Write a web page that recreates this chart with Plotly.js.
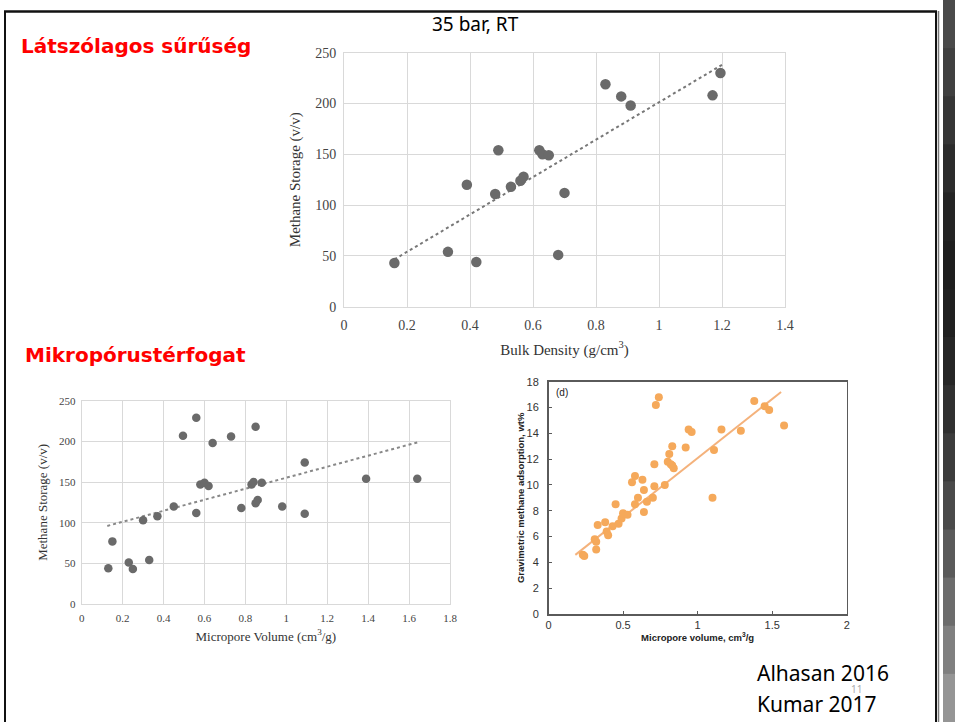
<!DOCTYPE html>
<html>
<head>
<meta charset="utf-8">
<script src="https://cdn.plot.ly/plotly-3.0.1.min.js"></script>
<style>html,body{margin:0;padding:0;background:#fff;}#chart{width:955px;height:722px;}</style>
</head>
<body>
<div id="chart"></div>
<script>
// ---- Chart 1: Bulk density vs methane storage (Alhasan 2016) ----
var densX = [0.16, 0.33, 0.39, 0.42, 0.48, 0.49, 0.53, 0.56, 0.57, 0.62, 0.63, 0.65, 0.68, 0.70, 0.83, 0.88, 0.91, 1.17, 1.195];
var densY = [43, 54, 120, 44, 111, 154, 118, 124, 128, 154, 150, 149, 51, 112, 219, 207, 198, 208, 230];
var densTrendX = [0.16, 1.2];
var densTrendY = [46.6, 238];

// ---- Chart 2: Micropore volume vs methane storage (Alhasan 2016) ----
var microX = [0.13, 0.15, 0.23, 0.25, 0.30, 0.33, 0.37, 0.45, 0.495, 0.56, 0.56, 0.58, 0.60, 0.62, 0.64, 0.73, 0.78, 0.83, 0.84, 0.85, 0.85, 0.86, 0.88, 0.98, 1.09, 1.09, 1.39, 1.64];
var microY = [44, 77, 51, 43, 103, 54, 108, 120, 207, 229, 112, 147, 149, 145, 198, 206, 118, 147, 150, 218, 124, 128, 149, 120, 174, 111, 154, 154];
var microTrendX = [0.125, 1.645];
var microTrendY = [96, 199];

// ---- Chart 3: Micropore volume vs gravimetric adsorption (Kumar 2017) ----
var kumarX = [0.23, 0.24, 0.31, 0.32, 0.32, 0.33, 0.38, 0.39, 0.40, 0.43, 0.45, 0.47, 0.49, 0.50, 0.53, 0.56, 0.58, 0.58, 0.60, 0.63, 0.64, 0.64, 0.66, 0.70, 0.71, 0.71, 0.72, 0.74, 0.78, 0.80, 0.81, 0.82, 0.83, 0.83, 0.84, 0.92, 0.94, 0.96, 1.10, 1.11, 1.16, 1.29, 1.38, 1.45, 1.48, 1.58];
var kumarY = [4.6, 4.5, 5.8, 5.6, 5.0, 6.9, 7.1, 6.4, 6.1, 6.8, 8.5, 7.0, 7.4, 7.8, 7.7, 10.2, 10.7, 8.5, 9.0, 10.4, 9.6, 7.9, 8.7, 9.0, 11.6, 9.9, 16.2, 16.8, 10.0, 11.8, 12.4, 11.6, 13.0, 11.5, 11.3, 12.9, 14.3, 14.1, 9.0, 12.7, 14.3, 14.2, 16.5, 16.1, 15.8, 14.6];
var kumarTrendX = [0.18, 1.56];
var kumarTrendY = [4.58, 17.2];

var serif = "Liberation Serif, Times New Roman, serif";
var sans = "Liberation Sans, Arial, sans-serif";
var gridC = "#d9d9d9";
var dotC = "#6a6a6a";
var orange = "#f5a95b";

var traces = [
  {x: densTrendX, y: densTrendY, xaxis: "x", yaxis: "y", mode: "lines", type: "scatter",
   line: {color: "#777", width: 2, dash: "dot"}, hoverinfo: "skip"},
  {x: densX, y: densY, xaxis: "x", yaxis: "y", mode: "markers", type: "scatter",
   marker: {color: dotC, size: 10.5}},
  {x: microTrendX, y: microTrendY, xaxis: "x2", yaxis: "y2", mode: "lines", type: "scatter",
   line: {color: "#888", width: 2, dash: "dot"}, hoverinfo: "skip"},
  {x: microX, y: microY, xaxis: "x2", yaxis: "y2", mode: "markers", type: "scatter",
   marker: {color: dotC, size: 8.5}},
  {x: kumarTrendX, y: kumarTrendY, xaxis: "x3", yaxis: "y3", mode: "lines", type: "scatter",
   line: {color: "#f4b27c", width: 2}, hoverinfo: "skip"},
  {x: kumarX, y: kumarY, xaxis: "x3", yaxis: "y3", mode: "markers", type: "scatter",
   marker: {color: orange, size: 8}}
];

function px(x) { return x / 955; }
function py(y) { return 1 - y / 722; }

var shapes = [];
// decorative dark strip on the right edge (overlapping bands, no seams)
var stripCols = ["#4a4a4a", "#404040", "#363636", "#2c2c2c", "#242424", "#1e1e1e", "#202020", "#262626", "#303030", "#3c3c3c", "#4a4a4a", "#5a5a5a", "#6c6c6c", "#808080", "#959595"];
for (var i = 0; i < stripCols.length; i++) {
  shapes.push({type: "rect", xref: "paper", yref: "paper", x0: px(943), x1: 1,
    y0: py(Math.min(722, 722 * (i + 1) / stripCols.length + 2)), y1: py(722 * i / stripCols.length),
    fillcolor: stripCols[i], line: {width: 0}, layer: "below"});
}
// slide frame
shapes.push(
  {type: "line", xref: "paper", yref: "paper", x0: px(4), x1: px(937), y0: py(11.5), y1: py(11.5), line: {color: "#111", width: 2.5}},
  {type: "line", xref: "paper", yref: "paper", x0: px(5), x1: px(5), y0: py(11), y1: py(722), line: {color: "#111", width: 2}},
  {type: "line", xref: "paper", yref: "paper", x0: px(936), x1: px(936), y0: py(11), y1: py(722), line: {color: "#111", width: 2}},
  {type: "line", xref: "paper", yref: "paper", x0: px(938.5), x1: px(938.5), y0: py(11), y1: py(722), line: {color: "#777", width: 1.5}}
);

var annotations = [
  {text: "35 bar, RT", xref: "paper", yref: "paper", x: px(475), y: py(24), xanchor: "center", yanchor: "middle", showarrow: false,
   font: {family: "Noto Sans, sans-serif", size: 19, color: "#000"}},
  {text: "<b>Látszólagos sűrűség</b>", xref: "paper", yref: "paper", x: px(19), y: py(46), xanchor: "left", yanchor: "middle", showarrow: false,
   font: {family: "DejaVu Sans, sans-serif", size: 20, color: "#ff0000"}},
  {text: "<b>Mikropórustérfogat</b>", xref: "paper", yref: "paper", x: px(23), y: py(355), xanchor: "left", yanchor: "middle", showarrow: false,
   font: {family: "DejaVu Sans, sans-serif", size: 20, color: "#ff0000"}},
  {text: "Alhasan 2016", xref: "paper", yref: "paper", x: px(755), y: py(673), xanchor: "left", yanchor: "middle", showarrow: false,
   font: {family: "Noto Sans, sans-serif", size: 21, color: "#000"}},
  {text: "Kumar 2017", xref: "paper", yref: "paper", x: px(755), y: py(704), xanchor: "left", yanchor: "middle", showarrow: false,
   font: {family: "Noto Sans, sans-serif", size: 21, color: "#000"}},
  {text: "11", xref: "paper", yref: "paper", x: px(856), y: py(689), xanchor: "center", yanchor: "middle", showarrow: false,
   font: {family: "Noto Sans, sans-serif", size: 10, color: "#aaa"}},
  {text: "(d)", xref: "x3 domain", yref: "y3 domain", x: 0.02, y: 0.985, xanchor: "left", yanchor: "top", showarrow: false,
   font: {family: sans, size: 10, color: "#222"}}
];

var layout = {
  width: 955, height: 722,
  margin: {l: 0, r: 0, t: 0, b: 0},
  paper_bgcolor: "#fff", plot_bgcolor: "#fff",
  showlegend: false,
  xaxis: {
    domain: [px(344), px(785)], range: [0, 1.4], dtick: 0.2, tick0: 0,
    showgrid: true, gridcolor: gridC, gridwidth: 1, zeroline: false,
    showline: true, mirror: true, linecolor: gridC, linewidth: 1,
    ticks: "outside", ticklen: 5, tickcolor: "rgba(0,0,0,0)",
    tickfont: {family: serif, size: 14, color: "#444"}, automargin: false,
    title: {text: "Bulk Density (g/cm<sup>3</sup>)", font: {family: serif, size: 15, color: "#333"}, standoff: 12}
  },
  yaxis: {
    domain: [py(306.7), py(52.7)], range: [0, 250], dtick: 50, tick0: 0,
    showgrid: true, gridcolor: gridC, gridwidth: 1, zeroline: false,
    showline: true, mirror: true, linecolor: gridC, linewidth: 1,
    ticks: "outside", ticklen: 4, tickcolor: "rgba(0,0,0,0)",
    tickfont: {family: serif, size: 14, color: "#444"}, automargin: false,
    title: {text: "Methane Storage (v/v)", font: {family: serif, size: 15, color: "#333"}, standoff: 10}
  },
  xaxis2: {
    domain: [px(81.7), px(450)], range: [0, 1.8], dtick: 0.2, tick0: 0, anchor: "y2",
    showgrid: true, gridcolor: gridC, gridwidth: 1, zeroline: false,
    showline: true, mirror: true, linecolor: gridC, linewidth: 1,
    ticks: "outside", ticklen: 4, tickcolor: "rgba(0,0,0,0)",
    tickfont: {family: serif, size: 11, color: "#444"}, automargin: false,
    title: {text: "Micropore Volume (cm<sup>3</sup>/g)", font: {family: serif, size: 13, color: "#333"}, standoff: 8}
  },
  yaxis2: {
    domain: [py(604), py(400.7)], range: [0, 250], dtick: 50, tick0: 0, anchor: "x2",
    showgrid: true, gridcolor: gridC, gridwidth: 1, zeroline: false,
    showline: true, mirror: true, linecolor: gridC, linewidth: 1,
    ticks: "outside", ticklen: 3, tickcolor: "rgba(0,0,0,0)",
    tickfont: {family: serif, size: 11, color: "#444"}, automargin: false,
    title: {text: "Methane Storage (v/v)", font: {family: serif, size: 13, color: "#333"}, standoff: 8}
  },
  xaxis3: {
    domain: [px(548.5), px(846.7)], range: [0, 2], dtick: 0.5, tick0: 0, anchor: "y3",
    showgrid: false, zeroline: false,
    showline: true, mirror: true, linecolor: "#5a5a5a", linewidth: 1.5,
    ticks: "inside", ticklen: 3, tickcolor: "#5a5a5a", tickwidth: 1,
    tickfont: {family: sans, size: 11, color: "#333"}, automargin: false,
    title: {text: "<b>Micropore volume, cm<sup>3</sup>/g</b>", font: {family: sans, size: 9.5, color: "#222"}, standoff: 0}
  },
  yaxis3: {
    domain: [py(614), py(381.7)], range: [0, 18], dtick: 2, tick0: 0, anchor: "x3",
    showgrid: false, zeroline: false,
    showline: true, mirror: true, linecolor: "#5a5a5a", linewidth: 1.5,
    ticks: "inside", ticklen: 3, tickcolor: "#5a5a5a", tickwidth: 1,
    ticklabelstandoff: 6,
    tickfont: {family: sans, size: 11, color: "#333"}, automargin: false,
    title: {text: "<b>Gravimetric methane adsorption, wt%</b>", font: {family: sans, size: 9.5, color: "#222"}, standoff: 0}
  },
  shapes: shapes,
  annotations: annotations
};

Plotly.newPlot("chart", traces, layout, {staticPlot: true, displayModeBar: false});
</script>
</body>
</html>
